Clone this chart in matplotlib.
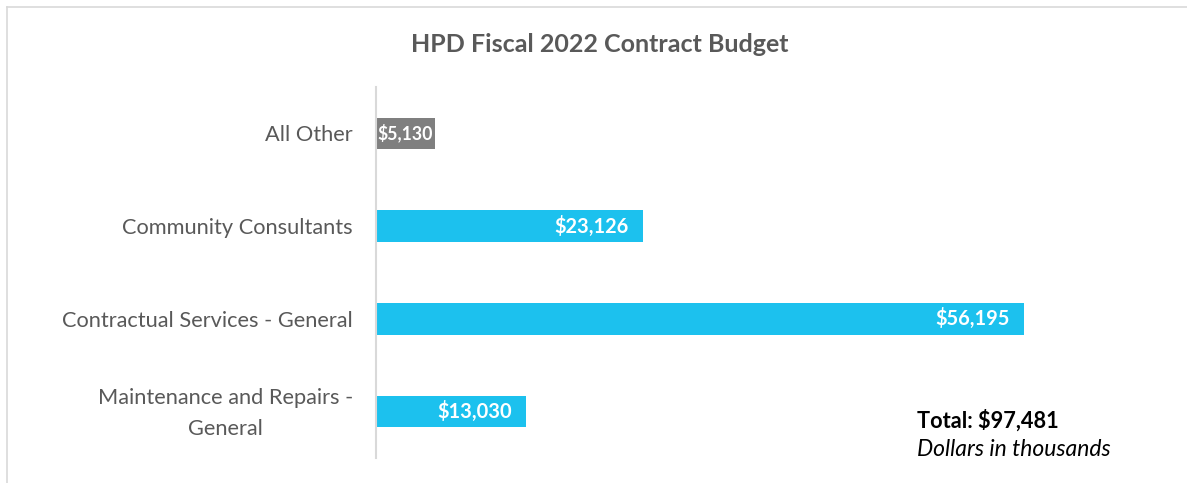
import matplotlib
matplotlib.use("Agg")
import matplotlib.pyplot as plt
from matplotlib.lines import Line2D
from matplotlib.transforms import ScaledTranslation

categories = ["All Other", "Community Consultants", "Contractual Services - General",
              "Maintenance and Repairs -\nGeneral"]
values = [5130, 23126, 56195, 13030]
labels = ["$5,130", "$23,126", "$56,195", "$13,030"]
colors = ["#7f7f7f", "#1cc1ee", "#1cc1ee", "#1cc1ee"]
title = "HPD Fiscal 2022 Contract Budget"
total_text = "Total: $97,481"
unit_text = "Dollars in thousands"

W, H = 1187, 483
fig = plt.figure(figsize=(W / 100, H / 100), dpi=100)
plt.rcParams['font.family'] = ['Lato', 'DejaVu Sans']

# frame border (top and left visible)
fig.add_artist(Line2D([7 / W, 1.0], [1 - 7 / H, 1 - 7 / H], transform=fig.transFigure,
                      color="#d9d9d9", lw=1.2))
fig.add_artist(Line2D([7 / W, 7 / W], [1 - 7 / H, 0.0], transform=fig.transFigure,
                      color="#d9d9d9", lw=1.2))

x0, x1 = 376, 1024
y0, y1 = 87, 458
xmax = 56195
ax = fig.add_axes([x0 / W, 1 - y1 / H, (x1 - x0) / W, (y1 - y0) / H])
pos = list(range(len(categories)))
ax.barh(pos, values, height=0.34, color=colors)
ax.set_ylim(3.5, -0.5)
ax.set_xlim(0, xmax)
ax.set_yticks(pos)
ax.set_yticklabels(categories, fontsize=15.7, color="#595959", linespacing=1.7,
                   multialignment="center")
ax.tick_params(axis="y", length=0, pad=16.5)
ax.set_xticks([])
for s in ["top", "right", "bottom"]:
    ax.spines[s].set_visible(False)
ax.spines["left"].set_color("#d9d9d9")
ax.spines["left"].set_linewidth(1.5)

# shift the two-line label up slightly to centre it on its bar
for lab in ax.get_yticklabels():
    if "\n" in lab.get_text():
        lab.set_transform(lab.get_transform() +
                          ScaledTranslation(0, 6 / 100, fig.dpi_scale_trans))

for i, (v, lab) in enumerate(zip(values, labels)):
    if i == 0:
        ax.text(v / 2, i, lab, ha="center", va="center", color="white",
                fontsize=12.7, fontweight="bold")
    else:
        ax.annotate(lab, (v, i), xytext=(-10, 0), textcoords="offset points",
                    ha="right", va="center", color="white", fontsize=14.4,
                    fontweight="bold")

fig.text(600 / W, 1 - 45 / H, title, ha="center", va="center", fontsize=18,
         fontweight="bold", color="#595959")
fig.text(917 / W, 1 - 421 / H, total_text, ha="left", va="center", fontsize=15.7,
         fontweight="bold", color="black")
fig.text(917 / W, 1 - 449 / H, unit_text, ha="left", va="center", fontsize=16.5,
         fontstyle="italic", color="black")

fig.savefig("out.png", dpi=100)
